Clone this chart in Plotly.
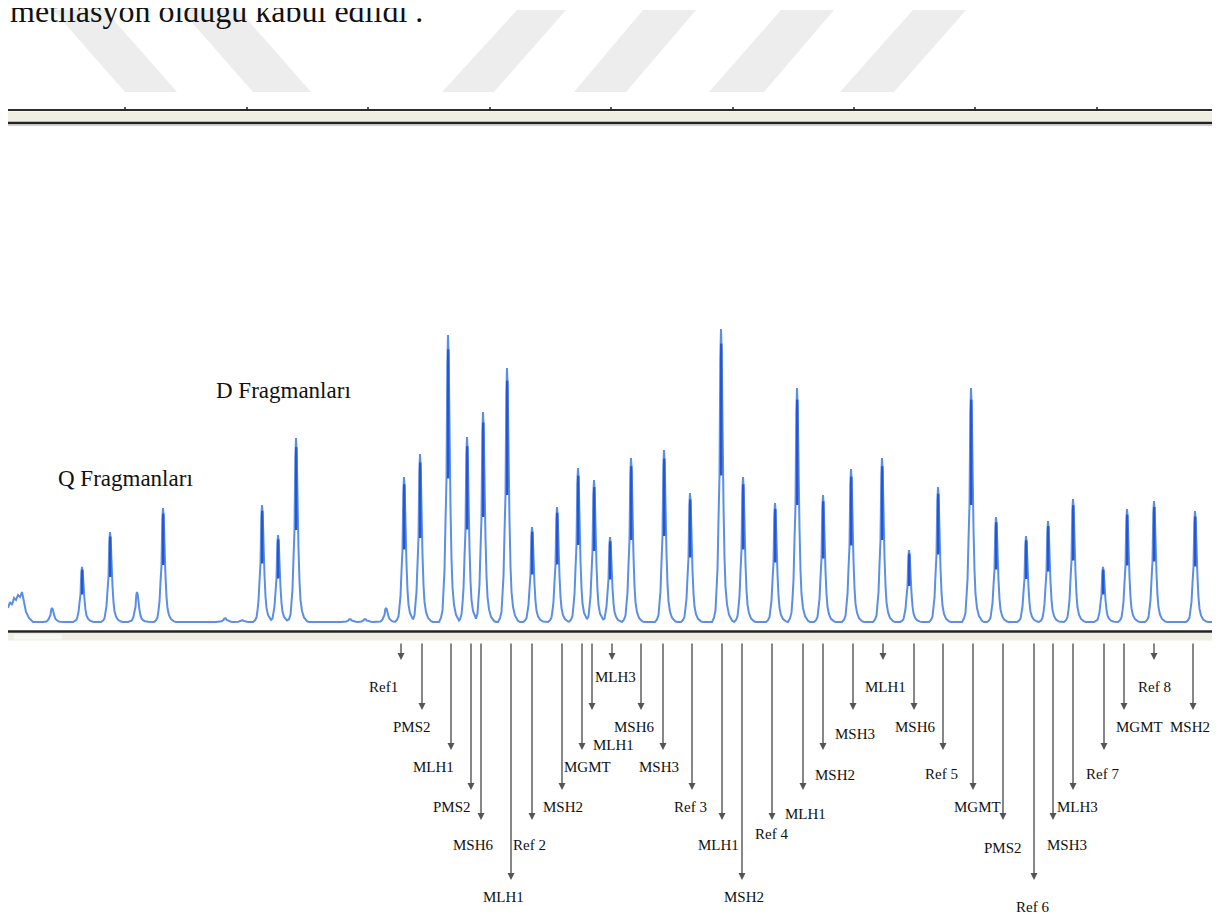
import numpy as np
import plotly.graph_objects as go

# ---------------- data ----------------
# fragment peaks: position along the run and signal height above baseline
peak_pos = [52, 82, 110, 137, 163, 225, 242, 262, 278, 296, 350, 365, 386,
            404, 420, 448, 467, 483, 507, 532, 557, 578, 594, 610, 631, 664,
            690, 721, 743, 775, 797, 823, 851, 882, 909, 938,
            971, 996, 1026, 1048, 1073, 1103, 1127, 1154, 1195]
peak_height = [14, 55, 90, 30, 114, 4, 2, 117, 87, 184, 3, 3, 14,
               145, 168, 287, 185, 210, 254, 95, 115, 154, 142, 85, 164, 172,
               129, 293, 145, 119, 234, 127, 153, 164, 72, 135,
               234, 105, 86, 101, 123, 55, 113, 121, 111]

# early noise at the start of the run
noise_pos = [8, 10, 12, 14, 16, 18, 20, 22, 24, 26, 29, 33]
noise_val = [14, 20, 17, 24, 22, 27, 25, 30, 20, 10, 4, 0]

# labelled fragments (arrows below the trace)
frag_labels = ["Ref1", "PMS2", "MLH1", "PMS2", "MSH6", "MLH1", "Ref 2", "MSH2",
               "MGMT", "MLH1", "MLH3", "MSH6", "MSH3", "Ref 3", "MLH1", "MSH2",
               "Ref 4", "MLH1", "MSH2", "MSH3", "MLH1", "MSH6", "Ref 5", "MGMT",
               "PMS2", "Ref 6", "MSH3", "MLH3", "Ref 7", "MGMT", "Ref 8", "MSH2"]
frag_pos = [401, 422, 451, 471, 481, 511, 532, 562, 582, 592, 612, 641, 663,
            692, 722, 742, 772, 803, 823, 853, 883, 914, 943, 973, 1003, 1034,
            1053, 1073, 1104, 1124, 1154, 1193]

group_labels = ["Q Fragmanları", "D Fragmanları"]
heading = "metilasyon olduğu kabul edildi ."

assert len(peak_pos) == len(peak_height)
assert len(frag_labels) == len(frag_pos)

# ---------------- layout helpers (pixel geometry) ----------------
W, H = 1220, 917
OFF = 8               # page body margin in the browser
BASE = 622            # pixel row of the trace baseline


def Y(py):
    return BASE - py


# arrow tier (tip row) and label placement per fragment
tier_rows = [660, 710, 750, 790, 820, 880]
frag_tier = [0, 1, 2, 3, 4, 5, 4, 3, 2, 1, 0, 1, 2, 3, 4, 5, 4, 3, 2, 1, 0, 1,
             2, 3, 4, 5, 4, 3, 2, 1, 0, 1]
label_x = [383, 412, 433, 452, 473, 503, 529, 563, 587, 613, 615, 634, 659,
           690, 718, 744, 771, 805, 835, 855, 885, 915, 941, 977, 1003, 1032,
           1067, 1077, 1102, 1139, 1154, 1190]
label_y = [687, 727, 767, 807, 845, 897, 845, 807, 767, 745, 677, 727, 767,
           807, 845, 897, 834, 814, 775, 734, 687, 727, 774, 807, 848, 907,
           845, 807, 774, 727, 687, 727]

# peak shape template (style): offsets and fraction of height
tmpl_dx = [-9, -7, -5.5, -4.5, -3.5, -2.5, -1.5, -0.7, 0, 0.7, 1.5, 2.5, 3.5,
           4.5, 6, 8, 11, 13]
tmpl_f = [0, 0.015, 0.04, 0.1, 0.18, 0.35, 0.5, 0.9, 1, 0.92, 0.55, 0.4, 0.22,
          0.12, 0.06, 0.025, 0.005, 0]

# ---------------- build trace ----------------
verts = set([8.0, 1215.0] + [float(v) for v in noise_pos])
for p in peak_pos:
    for d in tmpl_dx:
        verts.add(p + d)
xs = np.array(sorted(v for v in verts if 8 <= v <= 1215))
ys = np.interp(xs, noise_pos, noise_val, left=0, right=0)
for p, h in zip(peak_pos, peak_height):
    prof = np.interp(xs, np.array(tmpl_dx) + p, np.array(tmpl_f) * h,
                     left=0, right=0)
    ys = np.maximum(ys, prof)

dark_x, dark_y = [], []
for p, h in zip(peak_pos, peak_height):
    if h > 40:
        dark_x += [p + 0.2, p + 0.2, None]
        dark_y += [0.5 * h, 0.95 * h, None]

fig = go.Figure()
fig.add_trace(go.Scatter(x=xs, y=ys, mode="lines",
                         line=dict(color="#5b8ee6", width=2),
                         hoverinfo="skip"))
fig.add_trace(go.Scatter(x=dark_x, y=dark_y, mode="lines",
                         line=dict(color="#2456d6", width=2.4),
                         hoverinfo="skip"))

shapes = []
# watermark stripes
stripes = [
    [(53, 10), (105, 10), (177, 92), (125, 92)],
    [(181, 10), (239, 10), (311, 92), (253, 92)],
    [(517, 10), (566, 10), (494, 92), (442, 92)],
    [(643, 10), (696, 10), (626, 92), (574, 92)],
    [(781, 10), (834, 10), (764, 92), (709, 92)],
    [(913, 10), (966, 10), (894, 92), (840, 92)],
]
for poly in stripes:
    path = "M " + " L ".join(f"{px},{Y(py)}" for px, py in poly) + " Z"
    shapes.append(dict(type="path", path=path, xref="x", yref="y",
                       fillcolor="#ededed", line=dict(width=0), layer="below"))

# top frame
shapes.append(dict(type="rect", x0=8, x1=W + OFF, y0=Y(111.5), y1=Y(122),
                   xref="x", yref="y", fillcolor="#eeeee2",
                   line=dict(width=0)))
shapes.append(dict(type="line", x0=8, x1=W + OFF, y0=Y(110), y1=Y(110),
                   xref="x", yref="y", line=dict(color="#2b2b2b", width=2)))
shapes.append(dict(type="line", x0=8, x1=W + OFF, y0=Y(123), y1=Y(123),
                   xref="x", yref="y", line=dict(color="#222222", width=2.5)))
shapes.append(dict(type="line", x0=8, x1=W + OFF, y0=Y(125.5), y1=Y(125.5),
                   xref="x", yref="y", line=dict(color="#cfcfcf", width=1)))
for tx in [125, 247, 368, 490, 611, 733, 854, 975, 1097]:
    shapes.append(dict(type="line", x0=tx, x1=tx, y0=Y(107), y1=Y(110),
                       xref="x", yref="y", line=dict(color="#222", width=1.5)))

# bottom frame
shapes.append(dict(type="rect", x0=8, x1=W + OFF, y0=Y(633), y1=Y(640.5),
                   xref="x", yref="y", fillcolor="#eeeee2",
                   line=dict(width=0)))
shapes.append(dict(type="rect", x0=14, x1=62, y0=Y(634.5), y1=Y(639.5),
                   xref="x", yref="y", fillcolor="#f8f8f3", line=dict(width=0)))
shapes.append(dict(type="line", x0=8, x1=W + OFF, y0=Y(631.5), y1=Y(631.5),
                   xref="x", yref="y", line=dict(color="#222222", width=2.5)))

SERIF = "Liberation Serif, Times New Roman, serif"
annotations = []
# heading text (partly cut at the top, as in the source page)
annotations.append(dict(x=8, y=Y(31), xref="x", yref="y", text=heading,
                        showarrow=False, xanchor="left", yanchor="bottom",
                        font=dict(family=SERIF, size=32, color="#111")))
# group labels
annotations.append(dict(x=125, y=Y(478), xref="x", yref="y",
                        text=group_labels[0], showarrow=False,
                        font=dict(family=SERIF, size=23, color="#111")))
annotations.append(dict(x=283, y=Y(390), xref="x", yref="y",
                        text=group_labels[1], showarrow=False,
                        font=dict(family=SERIF, size=23, color="#111")))

# arrows and fragment labels
for lab, fx, t, lx, ly in zip(frag_labels, frag_pos, frag_tier, label_x,
                              label_y):
    annotations.append(dict(x=fx, y=Y(tier_rows[t]), ax=fx, ay=Y(642),
                            xref="x", yref="y", axref="x", ayref="y",
                            text="", showarrow=True, arrowhead=2,
                            arrowsize=1, arrowwidth=1.4,
                            arrowcolor="#555555"))
    annotations.append(dict(x=lx, y=Y(ly), xref="x", yref="y", text=lab,
                            showarrow=False,
                            font=dict(family=SERIF, size=15, color="#111")))

fig.update_layout(
    width=W, height=H, autosize=False,
    margin=dict(l=0, r=0, t=0, b=0, pad=0),
    paper_bgcolor="white", plot_bgcolor="white",
    showlegend=False,
    xaxis=dict(range=[OFF, W + OFF], visible=False, fixedrange=True),
    yaxis=dict(range=[BASE - H - OFF, BASE - OFF], visible=False,
               fixedrange=True),
    shapes=shapes, annotations=annotations,
)

fig.write_html("out.html")
